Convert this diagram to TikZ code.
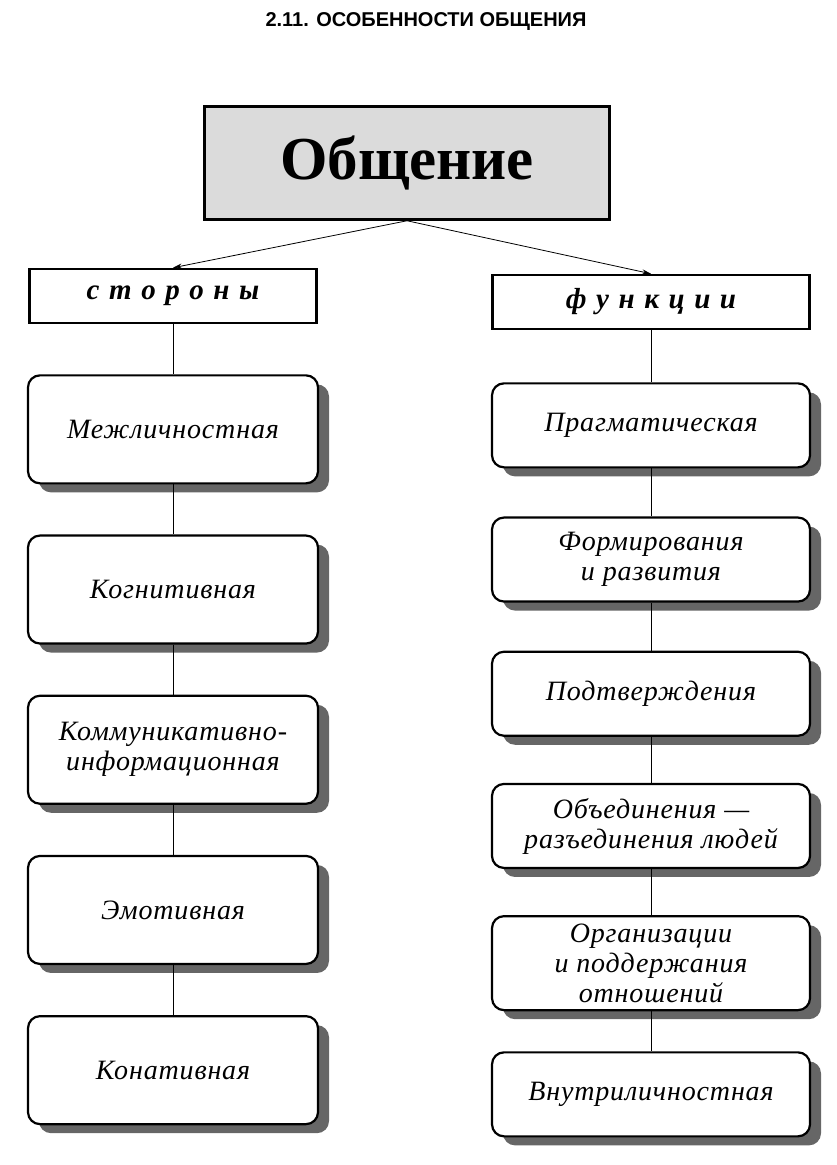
\documentclass[tikz,border=0pt]{standalone}
\usepackage{fontspec}
\setmainfont{Liberation Serif}
\newfontfamily\headfont{Liberation Sans}
\usetikzlibrary{positioning, arrows.meta, shadows}

\begin{document}
\begin{tikzpicture}[x=1pt, y=1pt, node distance=50pt, >={Stealth[length=9pt,width=5pt]},
    root/.style={draw, line width=2.5pt, fill=gray!28, minimum width=405pt, minimum height=113pt,
      font=\fontsize{61}{63}\selectfont\bfseries},
    side/.style={draw, line width=2.5pt, fill=white, minimum height=54pt,
      font=\fontsize{29}{32}\selectfont\bfseries\itshape\addfontfeature{LetterSpace=8}},
    part/.style={draw, line width=2.2pt, rounded corners=12pt, fill=white, align=center,
      minimum width=290pt, minimum height=108pt,
      font=\fontsize{28}{30}\selectfont\itshape\addfontfeature{LetterSpace=3},
      drop shadow={shadow xshift=11pt, shadow yshift=-9pt, fill=black!60, opacity=1}},
    func/.style={part, minimum width=318pt, minimum height=84pt},
    link/.style={line width=0.8pt}]
                \useasboundingbox (0,0) rectangle (837,-1165);

                \node[font=\headfont\bfseries\fontsize{20}{22}\selectfont] (T) at (426,-22) {2.11. ОСОБЕННОСТИ ОБЩЕНИЯ};
                \node[root] (O) at (407,-163) {Общение};

                \node[side, minimum width=287pt] (S) at (173,-296) {с т о р о н ы};
                \node[part] (S1) [below=of S] {Межличностная};
                \node[part] (S2) [below=of S1] {Когнитивная};
                \node[part] (S3) [below=of S2] {Коммуникативно-\\информационная};
                \node[part] (S4) [below=of S3] {Эмотивная};
                \node[part] (S5) [below=of S4] {Конативная};

                \node[side, minimum width=317pt] (F) at (651,-302) {ф у н к ц и и};
                \node[func] (F1) [below=52pt of F] {Прагматическая};
                \node[func] (F2) [below=48pt of F1] {Формирования\\и развития};
                \node[func] (F3) [below=48pt of F2] {Подтверждения};
                \node[func] (F4) [below=46pt of F3] {Объединения —\\разъединения людей};
                \node[func, minimum height=94pt] (F5) [below=46pt of F4] {Организации\\и поддержания\\отношений};
                \node[func] (F6) [below=40pt of F5] {Внутриличностная};

                \path[->, link]
                (O.south) edge (S.north)
                (O.south) edge (F.north);

                \path[link]
                (S) edge (S1)
                (S1) edge (S2)
                (S2) edge (S3)
                (S3) edge (S4)
                (S4) edge (S5)
                (F) edge (F1)
                (F1) edge (F2)
                (F2) edge (F3)
                (F3) edge (F4)
                (F4) edge (F5)
                (F5) edge (F6);
            \end{tikzpicture}
\end{document}
